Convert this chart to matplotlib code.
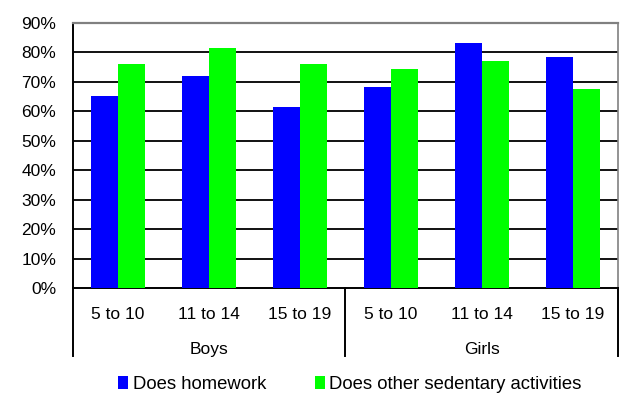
import matplotlib
matplotlib.use("Agg")
import matplotlib.pyplot as plt
import matplotlib.transforms as mtransforms
from matplotlib.patches import Patch
import numpy as np

plt.rcParams['font.family'] = ['Liberation Sans', 'DejaVu Sans']

age_groups = ["5 to 10", "11 to 14", "15 to 19", "5 to 10", "11 to 14", "15 to 19"]
sexes = ["Boys", "Girls"]
homework = [65.2, 72.0, 61.3, 68.1, 83.0, 78.2]
other_sedentary = [76.1, 81.5, 76.1, 74.2, 76.9, 67.4]
series_names = ["Does homework", "Does other sedentary activities"]
y_ticks = [0, 10, 20, 30, 40, 50, 60, 70, 80, 90]

blue = "#0000ff"
green = "#00ff00"

W, H = 621, 396
fig = plt.figure(figsize=(W / 100, H / 100), dpi=100)
left, right, top, bottom = 72.7, 618.3, 22.7, 288.0
ax = fig.add_axes([left / W, (H - bottom) / H, (right - left) / W, (bottom - top) / H])

x = np.arange(len(age_groups))
bw = 0.3
ax.bar(x - bw / 2, homework, width=bw, color=blue, zorder=3, linewidth=0)
ax.bar(x + bw / 2, other_sedentary, width=bw, color=green, zorder=3, linewidth=0)

ax.set_xlim(-0.5, len(age_groups) - 0.5)
ax.set_ylim(0, 90)
ax.set_yticks(y_ticks)
ax.set_yticklabels([f"{v}%" for v in y_ticks], fontsize=12.5)
ax.tick_params(axis="y", length=0, pad=12)
ax.set_xticks([])

for v in y_ticks[1:-1]:
    ax.axhline(v, color="#111111", lw=1.4, zorder=1)

for s in ["top", "right"]:
    ax.spines[s].set_color("#808080")
    ax.spines[s].set_linewidth(1.2)
ax.spines["top"].set_linewidth(1.6)
ax.spines["left"].set_color("#000000")
ax.spines["left"].set_linewidth(1.4)
ax.spines["bottom"].set_color("#000000")
ax.spines["bottom"].set_linewidth(1.4)

trans = mtransforms.blended_transform_factory(ax.transData, ax.transAxes)
ah = bottom - top
for i, lab in enumerate(age_groups):
    ax.text(i, -(314.5 - bottom) / ah, lab, transform=trans, ha="center", va="center", fontsize=12.5)
for g, name in enumerate(sexes):
    ax.text(g * 3 + 1, -(349.5 - bottom) / ah, name, transform=trans, ha="center", va="center", fontsize=12.5)
for xs in [-0.5, 2.5, 5.5]:
    ax.plot([xs, xs], [0, -(356 - bottom) / ah], transform=trans, color="#000000", lw=1.4, clip_on=False)

handles = [Patch(facecolor=blue, edgecolor="none"), Patch(facecolor=green, edgecolor="none")]
fig.legend(handles, series_names, loc="center", bbox_to_anchor=(350 / W, (H - 384.5) / H), ncol=2,
           frameon=False, fontsize=13.3, handlelength=0.55, handleheight=0.75, handletextpad=0.25,
           columnspacing=2.6, borderpad=0)

fig.savefig("out.png", dpi=100)
